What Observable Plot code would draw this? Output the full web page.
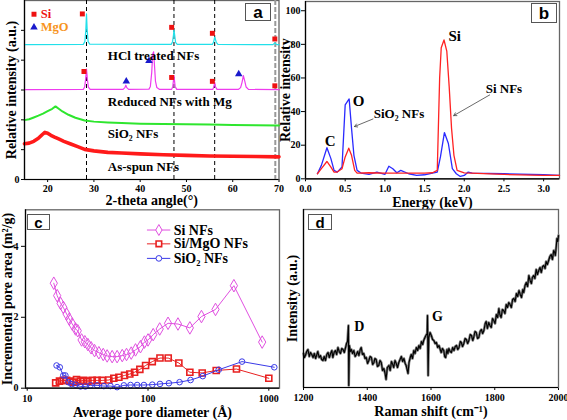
<!DOCTYPE html>
<html>
<head>
<meta charset="utf-8">
<script src="https://cdn.jsdelivr.net/npm/d3@7"></script>
<script src="https://cdn.jsdelivr.net/npm/@observablehq/plot@0.6"></script>
<style>
html,body{margin:0;padding:0;background:#fff;}
#fig{position:relative;width:567px;height:420px;overflow:hidden;background:#fff;}
.panel{position:absolute;}
.panel svg{overflow:visible;}
.tag{position:absolute;box-sizing:border-box;border:1.5px solid #555;background:#fff;font:bold 16px "Liberation Sans",Arial,sans-serif;line-height:1;display:flex;align-items:center;justify-content:center;color:#000;}
</style>
</head>
<body>
<div id="fig"></div>
<script>
// ---------- Panel a : XRD ----------
const xrdXTicks = [20, 30, 40, 50, 60, 70];
const xrdYTicks = [0, 1, 2, 3, 4, 5];
const xrdHcl = [[15,4.52],[27.7,4.53],[28.05,4.62],[28.25,5.0],[28.4,5.55],[28.55,5.0],[28.75,4.62],[29.1,4.54],[46.7,4.53],[47.0,4.62],[47.2,4.85],[47.3,5.02],[47.45,4.85],[47.65,4.6],[48.0,4.53],[55.6,4.53],[55.85,4.6],[56.0,4.7],[56.1,4.77],[56.25,4.7],[56.45,4.6],[56.8,4.53],[68.7,4.52],[69.1,4.58],[69.5,4.52],[70,4.52]];
const xrdReduced = [[15,3.01],[27.7,3.02],[28.0,3.1],[28.2,3.35],[28.4,3.7],[28.6,3.35],[28.8,3.1],[29.2,3.02],[36.3,3.02],[36.7,3.08],[36.9,3.16],[37.1,3.08],[37.5,3.02],[41.9,3.03],[42.2,3.12],[42.5,3.6],[42.7,4.2],[42.9,4.28],[43.1,3.8],[43.3,3.3],[43.6,3.08],[44.2,3.02],[46.8,3.02],[47.05,3.12],[47.3,3.48],[47.55,3.12],[47.9,3.02],[55.7,3.02],[55.9,3.1],[56.1,3.26],[56.3,3.1],[56.6,3.02],[61.2,3.02],[61.7,3.08],[62.0,3.25],[62.3,3.48],[62.6,3.3],[62.9,3.1],[63.4,3.02],[70,3.01]];
const xrdSio2 = [[15,1.99],[16,2.02],[17,2.08],[18,2.14],[19,2.21],[20,2.29],[21,2.37],[21.7,2.45],[22.4,2.37],[23.2,2.28],[24.5,2.17],[26,2.07],[28,1.98],[30,1.94],[33,1.91],[36,1.89],[40,1.87],[45,1.86],[50,1.85],[55,1.84],[60,1.83],[65,1.82],[70,1.81]];
const xrdAsSpun = [[15,1.2],[16,1.22],[17,1.28],[18,1.38],[18.8,1.5],[19.4,1.58],[20,1.55],[20.7,1.48],[21.5,1.42],[22.5,1.35],[23.5,1.28],[25,1.19],[26.5,1.1],[28,1.01],[30,0.96],[33,0.91],[36,0.89],[40,0.86],[45,0.83],[50,0.81],[55,0.79],[60,0.78],[65,0.77],[70,0.76]];
const xrdSiMarks = [[27.5,5.55],[46.8,5.1],[55.6,4.9],[69.1,4.71],[27.85,3.62],[46.8,3.42],[55.6,3.29],[69.1,3.14]];
const xrdMgoMarks = [[37.0,3.29],[41.9,3.98],[61.3,3.53]];
const xrdSiRefs = [28.4, 47.3, 56.1];
const xrdEdgeRef = [69.2];
const xrdLabels = ["HCl treated NFs", "Reduced NFs with Mg", "SiO\u2082 NFs", "As-spun NFs"];
const xrdLabelY = [4.15, 2.59, 1.53, 0.44];
const xrdLegend = ["Si", "MgO"];

// ---------- Panel b : EDS ----------
const edsXTicks = [0, 0.5, 1.0, 1.5, 2.0, 2.5, 3.0];
const edsYTicks = [0, 20, 40, 60, 80, 100];
const edsSio2 = [[0.15,3],[0.2,8],[0.27,18.5],[0.32,12],[0.36,5],[0.4,4],[0.46,7],[0.5,44],[0.55,47.5],[0.58,30],[0.61,14],[0.65,5],[0.7,3.4],[0.8,2.6],[0.9,4],[1.0,2.6],[1.05,7.5],[1.1,6],[1.15,3.6],[1.2,5],[1.3,3],[1.4,2],[1.5,2.4],[1.6,3.4],[1.66,4],[1.7,13],[1.75,27.5],[1.8,21],[1.85,6],[1.9,3],[1.95,1.4],[2.0,2],[2.05,4],[2.1,3.4],[2.5,3],[3.0,2.4],[3.2,2]];
const edsSi = [[0.15,3],[0.2,6],[0.27,10.3],[0.32,7],[0.36,4],[0.4,4],[0.46,6],[0.5,13],[0.545,18.2],[0.58,14],[0.62,5],[0.65,3.4],[0.8,3.6],[1.0,3.4],[1.5,3.4],[1.6,3.6],[1.66,5],[1.69,60],[1.71,78],[1.745,82.6],[1.78,76],[1.81,55],[1.84,30],[1.87,14],[1.91,5],[2.0,3.5],[2.5,2.6],[3.0,2],[3.2,2]];
const edsPeakLabels = ["C", "O", "Si"];
const edsPeakPos = [[0.31,22.5],[0.67,46],[1.88,85]];
const edsSeriesLabels = ["SiO\u2082 NFs", "Si NFs"];
const edsSeriesPos = [[0.86,38.6],[2.27,53.5]];
const edsArrows = [[0.85,35.6,0.617,31.1],[2.32,49.9,1.867,37.6]];

// ---------- Panel c : pore area ----------
const poreXTicks = [10, 100, 1000];
const poreYTicks = [0, 2, 4];
const poreSi = [[16.6,2.96],[17.7,2.61],[18.9,2.39],[19.9,2.28],[21.2,2.09],[22.3,1.95],[23.6,1.81],[25.1,1.67],[26.2,1.62],[28.2,1.36],[30.0,1.31],[31.8,1.23],[33.8,1.14],[36.1,1.06],[39.2,1.0],[42.6,0.95],[45.9,0.91],[50.5,0.89],[55.5,0.89],[61.2,0.92],[66.4,0.95],[72.6,0.99],[78.8,1.08],[86.6,1.17],[93.4,1.3],[100,1.36],[110.4,1.51],[125,1.67],[146.5,1.83],[177,1.81],[222,1.7],[277,2.02],[362,2.22],[514,2.89],[881,1.3]];
const poreSiMgO = [[17.2,0.15],[18.5,0.2],[19.9,0.22],[21.2,0.22],[22.6,0.2],[24.0,0.17],[25.6,0.24],[27.6,0.2],[29.4,0.22],[31.8,0.2],[34.5,0.22],[37.9,0.22],[41.7,0.22],[47.4,0.23],[52.1,0.28],[57.4,0.31],[63.9,0.36],[70.7,0.4],[77.4,0.45],[85.6,0.53],[95.5,0.64],[108.5,0.75],[125.6,0.85],[147,0.85],[180,0.71],[222,0.45],[281,0.43],[367,0.5],[540,0.54],[1000,0.28]];
const poreSio2 = [[17.5,0.64],[18.6,0.59],[19.9,0.36],[20.7,0.36],[21.9,0.17],[23.2,0.12],[25.1,0.1],[27.6,0.05],[30.3,0.05],[33.4,0.08],[37.9,0.08],[43.1,0.06],[48.9,0.06],[55.5,0.03],[63.1,0.08],[71.7,0.09],[81.3,0.09],[92.5,0.09],[108.5,0.1],[125.6,0.12],[148.9,0.14],[182.5,0.17],[225,0.23],[284,0.34],[385,0.52],[600,0.75],[1110,0.59]];
const poreNames = ["Si NFs", "Si/MgO NFs", "SiO\u2082 NFs"];

// ---------- Panel d : Raman ----------
const ramanXTicks = [1200, 1400, 1600, 1800, 2000];
const raman = [[1200,34],[1203,30],[1206,32],[1210,36],[1214,38],[1218,31],[1222,35],[1226,33],[1230,30],[1234,34],[1238,29],[1242,33],[1245,36],[1249,30],[1253,32],[1257,28],[1261,27],[1265,31],[1269,27],[1273,33],[1277,35],[1281,30],[1285,34],[1289,37],[1292,30],[1296,35],[1300,37],[1304,33],[1308,40],[1312,36],[1316,34],[1320,39],[1324,38],[1328,35],[1332,40],[1335,44],[1338,46],[1341,62],[1342,2],[1344,42],[1347,36],[1350,38],[1354,34],[1358,37],[1362,31],[1366,33],[1370,36],[1374,32],[1378,38],[1381,40],[1385,33],[1389,34],[1393,29],[1397,30],[1401,24],[1405,27],[1409,31],[1413,30],[1417,23],[1421,25],[1424,29],[1428,28],[1432,21],[1436,22],[1440,27],[1444,25],[1448,17],[1452,19],[1456,14],[1459,8],[1463,20],[1468,22],[1472,17],[1476,26],[1480,23],[1483,20],[1487,27],[1491,24],[1495,20],[1499,25],[1503,28],[1507,31],[1511,26],[1515,29],[1519,24],[1522,22],[1528,14],[1531,25],[1535,30],[1538,33],[1542,29],[1546,37],[1550,34],[1554,40],[1558,37],[1562,42],[1566,39],[1570,46],[1574,43],[1577,47],[1581,50],[1584,52],[1588,54],[1589,72],[1591,12],[1593,50],[1597,55],[1601,52],[1605,48],[1609,47],[1613,44],[1617,45],[1621,40],[1625,42],[1629,38],[1632,35],[1636,39],[1640,37],[1643,31],[1646,30],[1650,38],[1653,34],[1656,39],[1660,36],[1664,35],[1668,40],[1672,37],[1676,41],[1680,42],[1684,38],[1688,40],[1692,46],[1695,45],[1699,41],[1703,44],[1707,49],[1711,48],[1715,44],[1719,47],[1723,53],[1727,52],[1731,47],[1734,50],[1738,56],[1742,55],[1746,49],[1750,50],[1754,56],[1758,58],[1762,54],[1766,57],[1770,64],[1773,66],[1777,59],[1781,65],[1785,62],[1789,60],[1793,69],[1797,67],[1801,64],[1805,73],[1809,70],[1813,79],[1816,73],[1820,70],[1824,78],[1828,77],[1832,74],[1836,83],[1840,80],[1844,85],[1848,83],[1852,80],[1856,88],[1860,89],[1864,86],[1868,94],[1872,91],[1876,97],[1880,93],[1884,90],[1888,98],[1891,95],[1895,102],[1899,105],[1903,101],[1907,112],[1911,107],[1915,104],[1918,110],[1922,112],[1926,109],[1930,118],[1934,113],[1938,117],[1942,120],[1946,115],[1950,121],[1954,122],[1958,119],[1961,126],[1965,123],[1969,127],[1973,131],[1977,133],[1981,128],[1985,137],[1988,135],[1990,132],[1993,141],[1995,149],[1998,146],[2000,152]];
const ramanBandLabels = ["D", "G"];
const ramanBandPos = [[1375,61],[1620,71]];

// ---------- drawing ----------
const SERIF = "'Liberation Serif', 'Times New Roman', serif";
const base = {fontFamily: SERIF, fontWeight: "bold", fontSize: "10px", background: "transparent", overflow: "visible", color: "#000"};
const fig = document.getElementById("fig");
const X = d => d[0], Y = d => d[1];
const plain = d => String(d);
function place(node, left, top) {
  const d = document.createElement("div");
  d.className = "panel"; d.style.left = left + "px"; d.style.top = top + "px";
  d.appendChild(node); fig.appendChild(d);
}
function tag(t, l, tp, w, h, fs) {
  const d = document.createElement("div");
  d.className = "tag"; d.textContent = t;
  Object.assign(d.style, {left: l + "px", top: tp + "px", width: w + "px", height: h + "px", fontSize: fs + "px"});
  fig.appendChild(d);
}
const titleX = (t, dy) => Plot.text([t], {frameAnchor: "bottom", dy, lineAnchor: "middle", textAnchor: "middle", fontSize: 14, fontWeight: "bold", fontFamily: SERIF});
const titleY = (t, dx) => Plot.text([t], {frameAnchor: "left", dx, rotate: -90, textAnchor: "middle", lineAnchor: "middle", fontSize: 14, fontWeight: "bold", fontFamily: SERIF});
const legendRowY = [5.54, 5.1];

// Panel a
const A = Plot.plot({
  width: 283, height: 210, marginLeft: 24, marginRight: 4.5, marginTop: 0, marginBottom: 31,
  style: base,
  x: {domain: [15, 70], ticks: xrdXTicks, tickSize: 3, tickPadding: 2, tickFormat: plain, label: null},
  y: {domain: [0, 6], ticks: xrdYTicks, tickSize: 3, tickPadding: 2, tickFormat: d => d === 0 ? "0" : "", label: null},
  marks: [
    Plot.frame({stroke: "#666", strokeWidth: 1.3}),
    Plot.ruleX(xrdSiRefs, {stroke: "#000", strokeWidth: 1, strokeDasharray: "4,3"}),
    Plot.ruleX(xrdEdgeRef, {stroke: "#999", strokeWidth: 2, strokeDasharray: "5,2"}),
    Plot.line(xrdAsSpun, {x: X, y: Y, stroke: "#ff1a1a", strokeWidth: 3.6}),
    Plot.line(xrdSio2, {x: X, y: Y, stroke: "#2ee62e", strokeWidth: 2}),
    Plot.line(xrdReduced, {x: X, y: Y, stroke: "#ee3cee", strokeWidth: 1.2}),
    Plot.line(xrdHcl, {x: X, y: Y, stroke: "#22e0ea", strokeWidth: 1.2}),
    Plot.dot(xrdSiMarks, {x: X, y: Y, symbol: "square", fill: "#ee1111", r: 2.8}),
    Plot.dot(xrdMgoMarks, {x: X, y: Y, symbol: "triangle", fill: "#1a1acc", r: 2.8}),
    Plot.text(xrdLabels, {x: () => 33, y: (d, i) => xrdLabelY[i], textAnchor: "start", fontSize: 13, fontFamily: SERIF, fontWeight: "bold"}),
    Plot.dot(xrdLegend, {x: () => 17.05, y: (d, i) => legendRowY[i], symbol: (d, i) => i ? "triangle" : "square", fill: (d, i) => i ? "#1a1acc" : "#ee1111", r: 2.8}),
    Plot.text(xrdLegend, {x: () => 18.5, y: (d, i) => legendRowY[i], textAnchor: "start", fill: (d, i) => i ? "#f7941d" : "#ee1111", fontSize: 12.5, fontFamily: SERIF, fontWeight: "bold"}),
    Plot.ruleX([15], {stroke: "#000", strokeWidth: 1.2}),
    Plot.ruleY([0], {stroke: "#000", strokeWidth: 1.2}),
    titleX("2-theta angle(\u00b0)", 21.5),
    titleY("Relative intensity (a.u.)", -12.5)
  ]
});
place(A, 0, 0);

// Panel b
const B = Plot.plot({
  width: 291, height: 210, marginLeft: 29, marginRight: 8, marginTop: 1, marginBottom: 31.7,
  style: base,
  x: {domain: [0, 3.2], ticks: edsXTicks, tickSize: 3, tickPadding: 3, tickFormat: d3.format(".1f"), label: null},
  y: {domain: [0, 105.5], ticks: edsYTicks, tickSize: 4, tickPadding: 1, tickFormat: plain, label: null},
  marks: [
    Plot.frame({stroke: "#666", strokeWidth: 1.3}),
    Plot.line(edsSio2, {x: X, y: Y, stroke: "#2a2aff", strokeWidth: 1.3}),
    Plot.line(edsSi, {x: X, y: Y, stroke: "#ff2222", strokeWidth: 1.3}),
    Plot.text(edsPeakLabels, {x: (d, i) => edsPeakPos[i][0], y: (d, i) => edsPeakPos[i][1], fontSize: 15, fontFamily: SERIF, fontWeight: "bold"}),
    Plot.text(edsSeriesLabels, {x: (d, i) => edsSeriesPos[i][0], y: (d, i) => edsSeriesPos[i][1], textAnchor: "start", fontSize: 13, fontFamily: SERIF, fontWeight: "bold"}),
    Plot.arrow(edsArrows, {x1: d => d[0], y1: d => d[1], x2: d => d[2], y2: d => d[3], stroke: "#444", strokeWidth: 0.8, headLength: 6}),
    Plot.ruleX([0], {stroke: "#000", strokeWidth: 1.2}),
    Plot.ruleY([0], {stroke: "#000", strokeWidth: 1.2}),
    titleX("Energy (keV)", 23.4),
    titleY("Relative intensity", -19.5)
  ]
});
place(B, 276, 0);

// Panel c
const poreColors = ["#e050e0", "#e82020", "#3a3ae8"];
const poreSymbols = ["diamond", "square", "circle"];
const poreSeries = [poreSi, poreSiMgO, poreSio2];
const legendY = [4.46, 4.07, 3.66];
const C = Plot.plot({
  width: 283, height: 215, marginLeft: 25, marginRight: 4, marginTop: 4.3, marginBottom: 32.3,
  style: base,
  x: {type: "log", domain: [9.68, 1226], ticks: poreXTicks, tickFormat: plain, tickSize: 3, tickPadding: 4, label: null},
  y: {domain: [0, 5.03], ticks: poreYTicks, tickSize: 4, tickPadding: 3, tickFormat: plain, label: null},
  marks: [
    Plot.frame({stroke: "#666", strokeWidth: 1.3}),
    ...poreSeries.flatMap((s, k) => [
      Plot.line(s, {x: X, y: Y, stroke: poreColors[k], strokeWidth: 1}),
      Plot.dot(s, {x: X, y: Y, symbol: poreSymbols[k], stroke: poreColors[k], fill: "none", strokeWidth: k === 1 ? 1.6 : 1, r: k === 0 ? 3.8 : k === 1 ? 3.4 : 2.8})
    ]),
    Plot.link(poreNames, {x1: () => 98, x2: () => 153, y1: (d, i) => legendY[i], y2: (d, i) => legendY[i], stroke: (d, i) => poreColors[i], strokeWidth: 1}),
    Plot.dot(poreNames, {x: () => 123, y: (d, i) => legendY[i], symbol: (d, i) => poreSymbols[i], stroke: (d, i) => poreColors[i], fill: "white", strokeWidth: (d, i) => i === 1 ? 1.6 : 1, r: (d, i) => i === 0 ? 3.8 : i === 1 ? 3.4 : 2.8}),
    Plot.text(poreNames, {x: () => 163, y: (d, i) => legendY[i], textAnchor: "start", fontSize: 14, fontFamily: SERIF, fontWeight: "bold"}),
    Plot.ruleX([9.68], {stroke: "#000", strokeWidth: 1.2}),
    Plot.ruleY([0], {stroke: "#000", strokeWidth: 1.2}),
    titleX("Average pore diameter (\u00c5)", 24),
    titleY("Incremental pore area (m\u00b2/g)", -17.5)
  ]
});
place(C, 0, 205);

// Panel d
const D = Plot.plot({
  width: 291, height: 215, marginLeft: 27, marginRight: 9, marginTop: 4, marginBottom: 33,
  style: base,
  x: {domain: [1200, 2000], ticks: ramanXTicks, tickSize: 3, tickPadding: 3, tickFormat: plain, label: null},
  y: {domain: [0, 178], axis: null},
  marks: [
    Plot.frame({stroke: "#666", strokeWidth: 1.3}),
    Plot.line(raman, {x: X, y: Y, stroke: "#7a7a7a", strokeWidth: 2.6}),
    Plot.line(raman, {x: X, y: Y, stroke: "#000", strokeWidth: 1.1}),
    Plot.text(ramanBandLabels, {x: (d, i) => ramanBandPos[i][0], y: (d, i) => ramanBandPos[i][1], fontSize: 14, fontFamily: SERIF, fontWeight: "bold"}),
    Plot.ruleX([1200], {stroke: "#000", strokeWidth: 1.2}),
    Plot.ruleY([0], {stroke: "#000", strokeWidth: 1.2}),
    titleX("Raman shift (cm\u207b\u00b9)", 24),
    titleY("Intensity (a.u.)", -10.5)
  ]
});
place(D, 276, 205);

tag("a", 245, 3, 26, 18, 17);
tag("b", 531, 3, 26, 20, 17);
tag("c", 27, 214, 23, 16, 15);
tag("d", 308, 214, 24, 16, 15);
</script>
</body>
</html>
